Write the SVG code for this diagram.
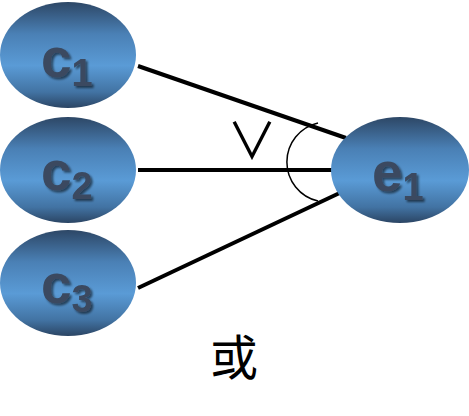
<svg xmlns="http://www.w3.org/2000/svg" width="469" height="416" viewBox="0 0 469 416">
<defs>
<linearGradient id="g" x1="0" y1="0" x2="0" y2="1">
<stop offset="0" stop-color="#2d4766"/>
<stop offset="0.3" stop-color="#4a80b5"/>
<stop offset="0.6" stop-color="#5a9bd6"/>
<stop offset="0.85" stop-color="#4273a3"/>
<stop offset="1" stop-color="#2b4564"/>
</linearGradient>
<filter id="sh" x="-20%" y="-20%" width="140%" height="140%">
<feDropShadow dx="2" dy="2" stdDeviation="1" flood-color="#000" flood-opacity="0.55"/>
</filter>
<style>
.n{fill:url(#g)}
.t{font-family:"Liberation Sans",Arial,sans-serif;font-weight:bold;fill:#3a4960;filter:url(#sh)}
.m{font-size:55px}
.s{font-size:38px}
.c{stroke:#000;stroke-width:4;fill:none}
</style>
</defs>
<g id="connectors">
<line class="c" x1="138" y1="66" x2="346" y2="138"/>
<line class="c" x1="138" y1="170" x2="334" y2="170"/>
<line class="c" x1="138" y1="288" x2="346" y2="190"/>
<path d="M318,123 A40,40 0 0,0 318,201" fill="none" stroke="#000" stroke-width="1.5"/>
<text x="252" y="159" font-family="'Noto Sans CJK SC',sans-serif" font-size="50" text-anchor="middle" fill="#000">∨</text>
</g>
<g id="c1">
<ellipse class="n" cx="68" cy="55" rx="68" ry="53"/>
<text class="t" x="41" y="77"><tspan class="m">c</tspan><tspan class="s" dy="9">1</tspan></text>
</g>
<g id="c2">
<ellipse class="n" cx="68" cy="170" rx="68" ry="53"/>
<text class="t" x="41" y="190"><tspan class="m">c</tspan><tspan class="s" dy="9">2</tspan></text>
</g>
<g id="c3">
<ellipse class="n" cx="68" cy="283" rx="68" ry="53"/>
<text class="t" x="41" y="303"><tspan class="m">c</tspan><tspan class="s" dy="9">3</tspan></text>
</g>
<g id="e1">
<ellipse class="n" cx="400" cy="170" rx="69" ry="53"/>
<text class="t" x="372" y="191"><tspan class="m">e</tspan><tspan class="s" dy="9">1</tspan></text>
</g>
<text x="234" y="375" font-family="'Noto Sans CJK SC',sans-serif" font-size="48" text-anchor="middle" fill="#000">或</text>
</svg>
